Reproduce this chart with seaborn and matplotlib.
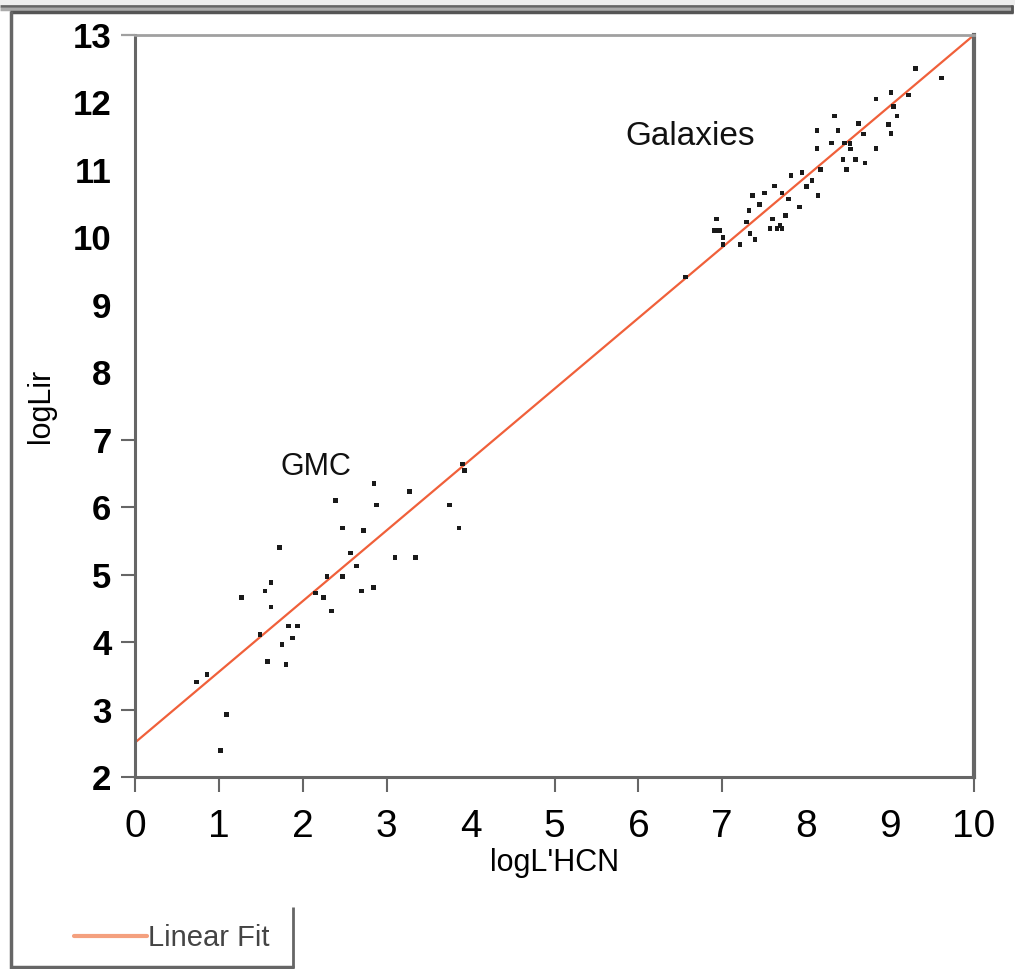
import numpy as np
import pandas as pd
import matplotlib
matplotlib.use("Agg")
import matplotlib.pyplot as plt
from matplotlib.lines import Line2D
from matplotlib.patches import Rectangle
import seaborn as sns

# Giant molecular clouds: log L'HCN vs log L_IR
gmc_x = [2.85, 3.27, 2.39, 2.88, 3.75, 2.47, 2.72, 3.86, 1.72, 2.57, 3.10, 3.34,
         2.64, 2.29, 2.47, 2.15, 1.62, 1.55, 1.27, 2.25, 2.70, 2.84, 1.62, 2.34,
         1.83, 1.94, 1.49, 1.88, 1.75, 1.58, 1.80, 0.86, 0.73, 1.09, 1.02, 3.90, 3.93]
gmc_y = [6.35, 6.23, 6.10, 6.03, 6.03, 5.69, 5.65, 5.69, 5.40, 5.32, 5.25, 5.25,
         5.13, 4.97, 4.97, 4.73, 4.88, 4.76, 4.66, 4.66, 4.76, 4.81, 4.52, 4.46,
         4.24, 4.24, 4.11, 4.06, 3.96, 3.71, 3.67, 3.52, 3.41, 2.93, 2.39, 6.64, 6.54]

# Galaxies
gal_x = [7.95, 7.82, 8.07, 7.62, 8.00, 7.50, 7.71, 7.36, 7.79, 8.14, 7.44, 7.32,
         7.92, 7.75, 7.60, 6.93, 7.29, 7.69, 7.57, 7.65, 7.71, 6.91, 6.97, 7.33,
         7.01, 7.39, 7.21, 7.01, 6.56,
         9.30, 9.61, 9.01, 9.22, 8.83, 9.04, 9.08, 8.34, 8.62, 8.98, 8.13, 8.38,
         8.68, 9.01, 8.30, 8.46, 8.52, 8.53, 8.13, 8.83, 8.44, 8.59, 8.70, 8.48, 8.17]
gal_y = [10.96, 10.92, 10.84, 10.76, 10.75, 10.66, 10.66, 10.62, 10.57, 10.62, 10.49, 10.40,
         10.45, 10.32, 10.27, 10.27, 10.23, 10.18, 10.13, 10.13, 10.13, 10.10, 10.10, 10.06,
         10.00, 9.97, 9.89, 9.89, 9.41,
         12.50, 12.36, 12.15, 12.11, 12.05, 11.94, 11.80, 11.80, 11.69, 11.67, 11.58, 11.58,
         11.53, 11.54, 11.40, 11.40, 11.39, 11.31, 11.32, 11.32, 11.15, 11.15, 11.10, 11.01, 11.01]

# Linear fit coefficients
fit_intercept = 2.51
fit_slope = 1.049
fit_x = [0.0, 10.0]

x_ticks = list(range(0, 11))
y_ticks = list(range(2, 14))
# tick marks drawn only at these positions
x_marked = [0, 1, 2, 3, 5, 6, 7, 10]
y_marked = [2, 3, 4, 5, 6, 7, 13]

df = pd.DataFrame({"logLHCN": gmc_x + gal_x, "logLir": gmc_y + gal_y})
fit_df = pd.DataFrame({"x": fit_x,
                       "y": [fit_intercept + fit_slope * v for v in fit_x]})

sns.set_theme(style="white")
plt.rcParams["font.family"] = ["Liberation Sans", "DejaVu Sans"]

W, H = 1015, 969
fig = plt.figure(figsize=(W / 100, H / 100), dpi=100)
ax = fig.add_axes([135 / W, 1 - 777 / H, (974 - 135) / W, (777 - 35) / H])

FIT = "#f0603a"
sns.lineplot(data=fit_df, x="x", y="y", ax=ax, color=FIT, lw=1.6, zorder=2)
sns.scatterplot(data=df, x="logLHCN", y="logLir", ax=ax, marker="s", s=11,
                color="#1a1a1a", edgecolor="none", linewidth=0, zorder=3)

ax.set_xlim(0, 10)
ax.set_ylim(2, 13)
ax.set_xticks(x_ticks)
ax.set_yticks(y_ticks)
ax.set_xticklabels([str(t) for t in x_ticks], fontsize=28, color="black")
ax.set_yticklabels([str(t) for t in y_ticks], fontweight="bold", fontsize=25, color="black")
ax.tick_params(axis="x", direction="out", length=11, width=1.5, color="#666666", pad=12, bottom=True)
ax.tick_params(axis="y", direction="out", length=10, width=1.5, color="#666666", pad=7, left=True)
for t, tk in zip(x_ticks, ax.xaxis.get_major_ticks()):
    tk.tick1line.set_visible(t in x_marked)
for t, tk in zip(y_ticks, ax.yaxis.get_major_ticks()):
    tk.tick1line.set_visible(t in y_marked)

ax.set_xlabel("logL'HCN", fontsize=22, labelpad=2, color="black")
ax.set_ylabel("logLir", fontsize=22, labelpad=12, color="black")

for side in ["left", "bottom", "right"]:
    ax.spines[side].set_color("#666666")
    ax.spines[side].set_linewidth(2.2)
ax.spines["right"].set_linewidth(3)
ax.spines["top"].set_color("#a0a0a0")
ax.spines["top"].set_linewidth(2)

ax.text(5.84, 11.49, "Galaxies", fontsize=24, color="#111111", va="center", ha="left")
ax.text(1.73, 6.60, "GMC", fontsize=22, color="#111111", va="center", ha="left")

# legend
legend_line = Line2D([], [], color="#f4a07e", lw=3)
fig.legend(handles=[legend_line], labels=["Linear Fit"], loc="center left",
           bbox_to_anchor=(74 / W, 1 - 938 / H), frameon=False, fontsize=21,
           handlelength=2.5, handletextpad=0.05, borderpad=0, borderaxespad=0,
           labelcolor="#444444")


def px_line(x0, y0, x1, y1, color, lw):
    fig.add_artist(Line2D([x0 / W, x1 / W], [1 - y0 / H, 1 - y1 / H],
                          transform=fig.transFigure, color=color, lw=lw,
                          solid_capstyle="butt"))


# window frame around the report
fig.add_artist(Rectangle((0, 1 - 5 / H), 1, 5 / H, transform=fig.transFigure,
                         color="#eeeeee", lw=0))
px_line(0, 6, 1013, 6, "#666666", 2)
px_line(0, 8.5, 1013, 8.5, "#aaaaaa", 2.5)
px_line(10, 12, 1013, 12, "#555555", 2.5)
px_line(1012, 5, 1012, 13, "#555555", 2)
px_line(11, 11, 11, 969, "#666666", 2.5)
px_line(10, 967, 294, 967, "#666666", 2.5)
px_line(293, 907, 293, 968, "#666666", 2)
# top axis line continues into the tick area
px_line(121, 35, 135, 35, "#a0a0a0", 1.5)

fig.savefig("out.png", dpi=100)
